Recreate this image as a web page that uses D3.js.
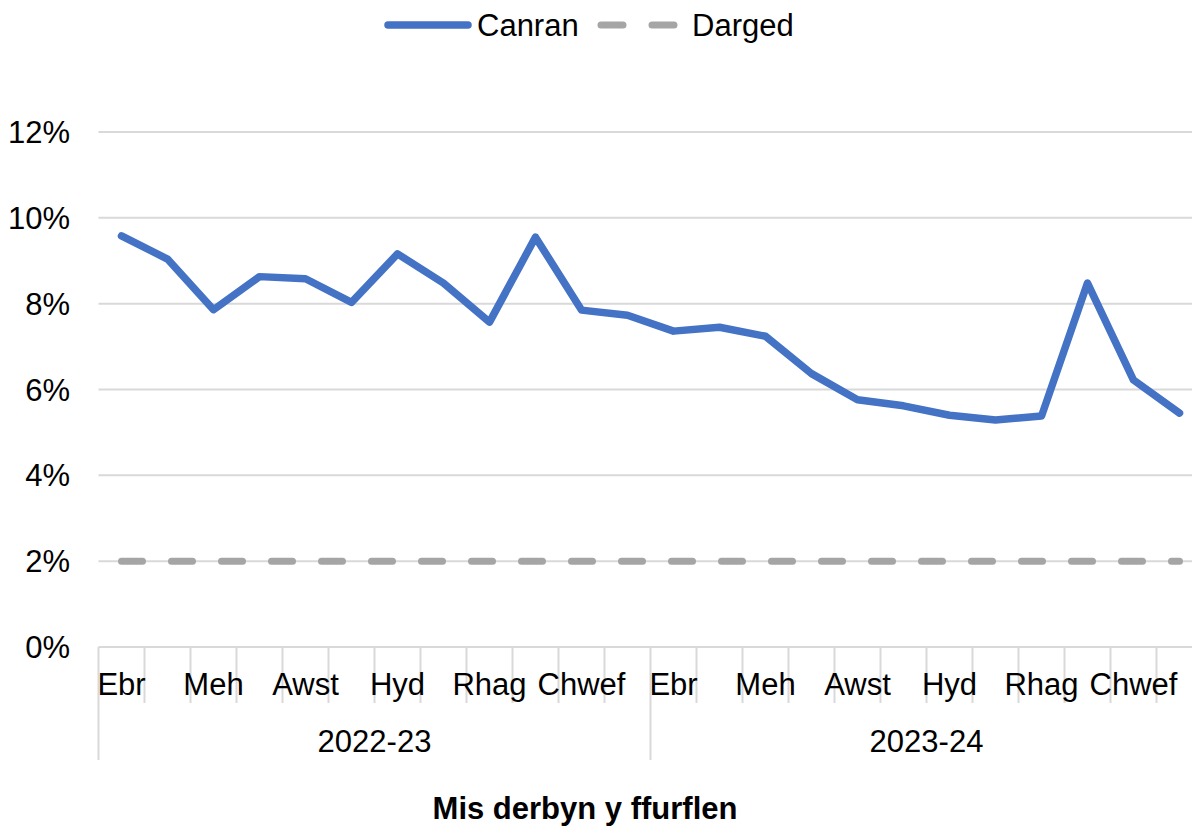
<!DOCTYPE html>
<html><head><meta charset="utf-8">
<script src="https://cdn.jsdelivr.net/npm/d3@7"></script>
<style>
html,body{margin:0;padding:0;background:#fff;}
svg text{font-family:"Liberation Sans",Arial,sans-serif;fill:#000;}
</style></head>
<body><svg id="chart" width="1192" height="826"></svg>
<script>
const months = ["Ebr","Mai","Meh","Gorff","Awst","Medi","Hyd","Tach","Rhag","Ion","Chwef","Maw"];
const years = ["2022-23","2023-24"];
const canran = [9.58,9.04,7.86,8.63,8.58,8.03,9.16,8.48,7.57,9.55,7.85,7.73,
                7.36,7.45,7.24,6.37,5.76,5.62,5.40,5.29,5.38,8.48,6.22,5.45];
const darged = [2,2,2,2,2,2,2,2,2,2,2,2,2,2,2,2,2,2,2,2,2,2,2,2];
const yTicks = [0,2,4,6,8,10,12];
const seriesNames = ["Canran","Darged"];

const svg = d3.select("#chart");
const pLeft = 98.5, pRight = 1202.5, pTop = 132, pBottom = 647;
const FS = 31;
const cats = [];
years.forEach(yy => months.forEach(m => cats.push(yy + "|" + m)));
const x = d3.scaleBand().domain(cats).range([pLeft, pRight]);
const y = d3.scaleLinear().domain([0,12]).range([pBottom, pTop]);
const cx = d => x(d) + x.bandwidth()/2;

// gridlines
svg.append("g").selectAll("line").data(yTicks).join("line")
  .attr("x1", pLeft).attr("x2", pRight)
  .attr("y1", d => y(d)).attr("y2", d => y(d))
  .attr("stroke", "#d9d9d9").attr("stroke-width", 2);

// y labels
svg.append("g").selectAll("text").data(yTicks).join("text")
  .attr("x", 70).attr("y", d => y(d)).attr("dy", "0.36em")
  .attr("text-anchor", "end").attr("font-size", FS)
  .text(d => d + "%");

// x ticks (category boundaries)
const bounds = d3.range(cats.length + 1);
svg.append("g").selectAll("line").data(bounds).join("line")
  .attr("x1", i => pLeft + i * x.bandwidth()).attr("x2", i => pLeft + i * x.bandwidth())
  .attr("y1", pBottom).attr("y2", i => (i % 12 === 0) ? 760 : 703)
  .attr("stroke", "#d9d9d9").attr("stroke-width", 2);

// month labels (every other)
svg.append("g").selectAll("text").data(cats.filter((c,i) => i % 2 === 0)).join("text")
  .attr("x", d => cx(d)).attr("y", 695)
  .attr("text-anchor", "middle").attr("font-size", FS)
  .text(d => d.split("|")[1]);

// year labels
svg.append("g").selectAll("text").data(years).join("text")
  .attr("x", (d,i) => pLeft + (i*12 + 6) * x.bandwidth()).attr("y", 752)
  .attr("text-anchor", "middle").attr("font-size", FS)
  .text(d => d);

// axis title
svg.append("text").attr("x", 585).attr("y", 819)
  .attr("text-anchor", "middle").attr("font-size", FS).attr("font-weight", "bold")
  .text("Mis derbyn y ffurflen");

const line = d3.line().x((d,i) => cx(cats[i])).y(d => y(d));

// target line
svg.append("path").datum(darged).attr("d", line)
  .attr("fill", "none").attr("stroke", "#a5a5a5").attr("stroke-width", 7)
  .attr("stroke-linecap", "round").attr("stroke-dasharray", "21,29");

// main line
svg.append("path").datum(canran).attr("d", line)
  .attr("fill", "none").attr("stroke", "#4472c4").attr("stroke-width", 7.5)
  .attr("stroke-linejoin", "round").attr("stroke-linecap", "round");

// legend
const lg = svg.append("g");
lg.append("line").attr("x1", 388).attr("x2", 468).attr("y1", 25).attr("y2", 25)
  .attr("stroke", "#4472c4").attr("stroke-width", 7.5).attr("stroke-linecap", "round");
lg.append("text").attr("x", 477).attr("y", 36).attr("font-size", FS).text(seriesNames[0]);
lg.append("line").attr("x1", 601).attr("x2", 674).attr("y1", 25).attr("y2", 25)
  .attr("stroke", "#a5a5a5").attr("stroke-width", 7).attr("stroke-linecap", "round")
  .attr("stroke-dasharray", "22,29");
lg.append("text").attr("x", 692).attr("y", 36).attr("font-size", FS).text(seriesNames[1]);
</script></body></html>
